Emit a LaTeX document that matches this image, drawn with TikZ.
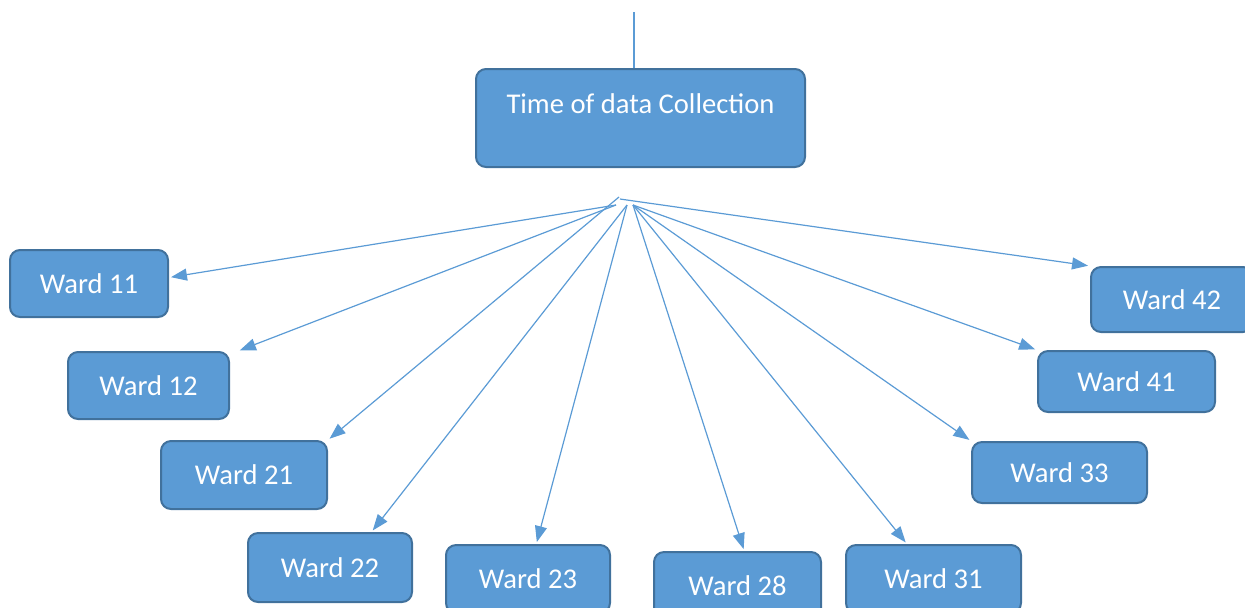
\documentclass[tikz,border=0pt]{standalone}
\usepackage{fontspec}
\setmainfont{Carlito}
\usetikzlibrary{arrows.meta,calc}
\definecolor{wardfill}{HTML}{5B9BD5}
\definecolor{wardline}{HTML}{41719C}
\definecolor{linkblue}{HTML}{5B9BD5}

\begin{document}
\begin{tikzpicture}[
  x=0.5pt, y=-0.5pt,
  box/.style={rectangle, rounded corners=5pt, draw=wardline, line width=1pt,
              fill=wardfill, text=white, align=center, inner sep=0pt,
              font=\fontsize{14.3}{17}\selectfont},
  wardbox/.style={box, minimum height=33.5pt},
  label/.style={text=white, inner sep=0pt, font=\fontsize{14.3}{17}\selectfont},
  arr/.style={draw=linkblue, line width=0.6pt, shorten >=1pt,
              -{Triangle[length=8pt, width=6pt]}}]
  \useasboundingbox (0,0) rectangle (1245,607);
  \clip (0,0) rectangle (1245,607);
  % head
  \node[box, minimum width=164.5pt, minimum height=49pt] (time) at (640.5,118) {};
  \node[label] (timetext) at (640.5,104) {Time of data Collection};
  \coordinate (feed) at (634,12);
  \draw[draw=linkblue, line width=0.6pt] (feed) -- (feed |- time.north);
  % fan out points
  \coordinate (hubA) at (616,205);
  \coordinate (hubB) at (619,197);
  \coordinate (hubC) at (627,205);
  \coordinate (hubD) at (633,205);
  \coordinate (hubE) at (620,199);
  % wards
  \node[wardbox, minimum width=79pt] (w11) at (89,283.5) {Ward 11};
  \node[wardbox, minimum width=80.5pt] (w12) at (148.5,385.5) {Ward 12};
  \node[wardbox, minimum width=83pt, minimum height=34pt] (w21) at (244,475) {Ward 21};
  \node[wardbox, minimum width=82pt, minimum height=34.5pt] (w22) at (330,567.5) {Ward 22};
  \node[wardbox, minimum width=82pt, minimum height=34pt] (w23) at (528,579) {Ward 23};
  \node[wardbox, minimum width=83.5pt, minimum height=34pt] (w28) at (737.5,586) {Ward 28};
  \node[wardbox, minimum width=87.5pt, minimum height=34pt] (w31) at (933.5,579) {Ward 31};
  \node[wardbox, minimum width=87.5pt, minimum height=30.5pt] (w33) at (1059.5,472.5) {Ward 33};
  \node[wardbox, minimum width=88.5pt, minimum height=30.5pt] (w41) at (1126.5,381.5) {Ward 41};
  \node[wardbox, minimum width=81pt, minimum height=32.5pt] (w42) at (1172,299.5) {Ward 42};
  % links
  \draw[arr] (hubA) -- ([yshift=3pt]w11.east);
  \draw[arr] (hubA) -- ([xshift=4pt]w12.north east);
  \draw[arr] (hubB) -- (w21.north east);
  \draw[arr] (hubC) -- ($(w22.north)!0.5!(w22.north east)$);
  \draw[arr] (hubC) -- ($(w23.north)!0.1!(w23.north east)$);
  \draw[arr] (hubD) -- ($(w28.north)!0.08!(w28.north east)$);
  \draw[arr] (hubD) -- ($(w31.north west)!0.7!(w31.north)$);
  \draw[arr] (hubD) -- (w33.north west);
  \draw[arr] (hubD) -- (w41.north west);
  \draw[arr] (hubE) -- (w42.north west);
\end{tikzpicture}
\end{document}
